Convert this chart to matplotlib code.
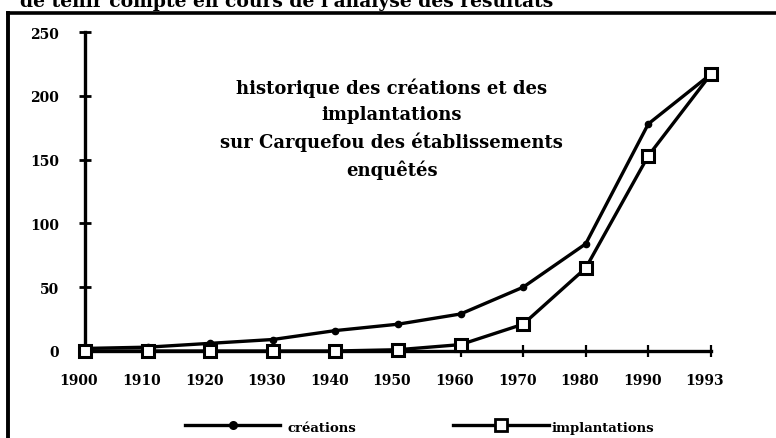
import matplotlib.pyplot as plt
import matplotlib.transforms as mtransforms
from matplotlib.lines import Line2D

years = ["1900", "1910", "1920", "1930", "1940", "1950", "1960", "1970", "1980", "1990", "1993"]
creations = [2, 3, 6, 9, 16, 21, 29, 50, 84, 178, 217]
implantations = [0, 0, 0, 0, 0, 1, 5, 21, 65, 153, 217]
y_ticks = [0, 50, 100, 150, 200, 250]

W, H = 776, 439
fig = plt.figure(figsize=(W / 100, H / 100), dpi=100)
ax = fig.add_axes([0, 0, 1, 1])

serif = "DejaVu Serif"
x = list(range(len(years)))

ax.plot(x, creations, color="black", lw=2.4, marker="o", ms=4.5,
        mfc="black", mec="black", solid_capstyle="round")
ax.plot(x, implantations, color="black", lw=2.4, marker="s", ms=8,
        mfc="white", mec="black", mew=2.2, zorder=3)

# one category ~62.6 px, 250 units ~319 px, origin at (85, 352) px
ax.set_xlim(-1.358, 11.04)
ax.set_ylim(-68.2, 275.9)
ax.patch.set_visible(False)
for s in ["top", "right"]:
    ax.spines[s].set_visible(False)
ax.spines["left"].set_position(("data", 0))
ax.spines["bottom"].set_position(("data", 0))
ax.spines["left"].set_bounds(0, 250)
ax.spines["bottom"].set_bounds(0, 10)
ax.spines["left"].set_linewidth(2.4)
ax.spines["bottom"].set_linewidth(2.4)

ax.set_yticks(y_ticks)
ax.set_yticklabels([str(v) for v in y_ticks], fontfamily=serif,
                   fontweight="bold", fontsize=10)
ax.set_xticks(x)
ax.set_xticklabels(years, fontfamily=serif, fontweight="bold", fontsize=10)
ax.tick_params(axis="y", direction="inout", length=9, width=2, pad=14)
ax.tick_params(axis="x", direction="inout", length=9, width=1.6, pad=11)
shift = mtransforms.ScaledTranslation(-6 / 100, 0, fig.dpi_scale_trans)
for lab in ax.get_xticklabels():
    lab.set_transform(lab.get_transform() + shift)

ax.text(4.9, 214, "historique des créations et des\nimplantations\n"
        "sur Carquefou des établissements\nenquêtés",
        ha="center", va="top", fontfamily=serif, fontweight="bold",
        fontsize=13, linespacing=1.55)

# legend drawn along the bottom
def px(xp, yp):
    return xp / W, 1 - yp / H

for (x0, x1, tx), mk, ms, label in [((185, 280, 287), "o", 4.5, "créations"),
                                     ((453, 549, 552), "s", 8, "implantations")]:
    a, b = px(x0, 426)
    c, _ = px(x1, 426)
    fig.add_artist(Line2D([a, c], [b, b], color="black", lw=2.4))
    fig.add_artist(Line2D([(a + c) / 2], [b], marker=mk, ms=ms,
                          mfc="white" if mk == "s" else "black",
                          mec="black", mew=2, color="black"))
    t, ty = px(tx, 432)
    fig.text(t, ty, label, fontfamily=serif, fontweight="bold", fontsize=9.5,
             va="baseline", ha="left")

# page frame
fig.add_artist(Line2D([8 / W, 1], [1 - 14 / H, 1 - 14 / H], color="black", lw=2.6))
fig.add_artist(Line2D([8 / W, 8 / W], [0, 1 - 14 / H], color="black", lw=2.8))
fig.text(20 / W, 1 - 7 / H, "de tenir compte en cours de l'analyse des résultats",
         fontfamily=serif, fontweight="bold", fontsize=13.5, va="baseline", ha="left")

fig.savefig("out.png", dpi=100)
